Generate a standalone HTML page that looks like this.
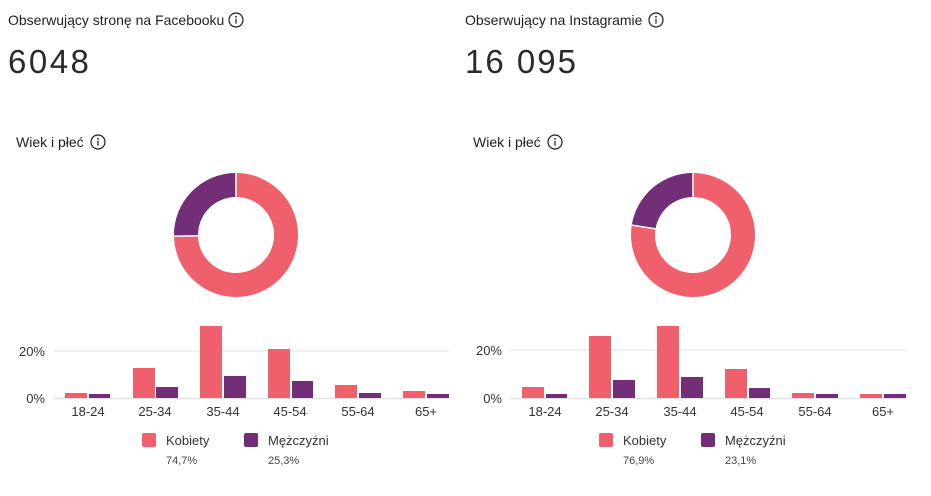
<!DOCTYPE html>
<html><head><meta charset="utf-8"><style>
body{margin:0;background:#fff;width:931px;height:491px;overflow:hidden;font-family:"Liberation Sans",sans-serif}
</style></head><body>
<svg width="931" height="491" xmlns="http://www.w3.org/2000/svg" font-family="Liberation Sans, sans-serif">
<defs>
<g id="info"><circle r="7" fill="none" stroke="#1c1e21" stroke-width="1.2"/><circle cy="-3.2" r="0.9" fill="#1c1e21"/><rect x="-0.6" y="-1.3" width="1.2" height="5" fill="#1c1e21"/></g>
</defs>
<!-- Left -->
<text x="8" y="25" font-size="14" fill="#1c1e21">Obserwujący stronę na Facebooku</text>
<use href="#info" x="236" y="20"/>
<text x="8" y="73" font-size="33" fill="#2a2a2a" letter-spacing="2.5">6048</text>
<text x="16" y="147" font-size="14" fill="#1c1e21">Wiek i płeć</text>
<use href="#info" x="98" y="142"/>
<g transform="translate(236,235)">
<circle r="50" fill="none" stroke="#f0606c" stroke-width="24"/>
<path d="M0,-62 A62,62 0 0 0 -61.99,1.2 L-38,0.7 A38,38 0 0 1 0,-38 Z" fill="#732e78"/>
<line x1="0" y1="-62" x2="0" y2="-38" stroke="#fff" stroke-width="1.5"/>
<line x1="-62" y1="1.2" x2="-38" y2="0.7" stroke="#fff" stroke-width="1.5"/>
</g>
<line x1="53" y1="351" x2="449" y2="351" stroke="#e3e3e3" stroke-width="1"/>
<line x1="53" y1="398.5" x2="449" y2="398.5" stroke="#e3e3e3" stroke-width="1.5"/>
<text x="45" y="356" font-size="13" fill="#333" text-anchor="end">20%</text>
<text x="45" y="403" font-size="13" fill="#333" text-anchor="end">0%</text>
<g fill="#f0606c">
<rect x="65" y="393" width="22" height="5"/><rect x="133" y="368" width="22" height="30"/><rect x="200" y="326" width="22" height="72"/><rect x="268" y="349" width="22" height="49"/><rect x="335" y="385" width="22" height="13"/><rect x="403" y="391" width="22" height="7"/>
</g>
<g fill="#732e78">
<rect x="89" y="394" width="21" height="4"/><rect x="156" y="387" width="22" height="11"/><rect x="224" y="376" width="22" height="22"/><rect x="292" y="381" width="21" height="17"/><rect x="359" y="393" width="22" height="5"/><rect x="427" y="394" width="22" height="4"/>
</g>
<g font-size="13" fill="#333" text-anchor="middle">
<text x="88" y="416">18-24</text><text x="155" y="416">25-34</text><text x="223" y="416">35-44</text><text x="290" y="416">45-54</text><text x="358" y="416">55-64</text><text x="426" y="416">65+</text>
</g>
<rect x="142" y="433" width="14" height="14" rx="2" fill="#f0606c"/>
<text x="166" y="445" font-size="13" fill="#333">Kobiety</text>
<text x="166" y="464" font-size="11" fill="#444">74,7%</text>
<rect x="244" y="433" width="14" height="14" rx="2" fill="#732e78"/>
<text x="268" y="445" font-size="13" fill="#333">Mężczyźni</text>
<text x="268" y="464" font-size="11" fill="#444">25,3%</text>

<!-- Right -->
<text x="465" y="25" font-size="14" fill="#1c1e21">Obserwujący na Instagramie</text>
<use href="#info" x="656" y="20"/>
<text x="465" y="73" font-size="33" fill="#2a2a2a" letter-spacing="2">16 095</text>
<text x="473" y="147" font-size="14" fill="#1c1e21">Wiek i płeć</text>
<use href="#info" x="555" y="142"/>
<g transform="translate(693,235)">
<circle r="50" fill="none" stroke="#f0606c" stroke-width="24"/>
<path d="M0,-62 A62,62 0 0 0 -61.2,-9.9 L-37.5,-6.1 A38,38 0 0 1 0,-38 Z" fill="#732e78"/>
<line x1="0" y1="-62" x2="0" y2="-38" stroke="#fff" stroke-width="1.5"/>
<line x1="-61.2" y1="-9.9" x2="-37.5" y2="-6.1" stroke="#fff" stroke-width="1.5"/>
</g>
<line x1="510" y1="350" x2="906" y2="350" stroke="#e3e3e3" stroke-width="1"/>
<line x1="510" y1="398.5" x2="906" y2="398.5" stroke="#e3e3e3" stroke-width="1.5"/>
<text x="502" y="355" font-size="13" fill="#333" text-anchor="end">20%</text>
<text x="502" y="403" font-size="13" fill="#333" text-anchor="end">0%</text>
<g fill="#f0606c">
<rect x="522" y="387" width="22" height="11"/><rect x="589" y="336" width="22" height="62"/><rect x="657" y="326" width="22" height="72"/><rect x="725" y="369" width="22" height="29"/><rect x="792" y="393" width="22" height="5"/><rect x="860" y="394" width="22" height="4"/>
</g>
<g fill="#732e78">
<rect x="546" y="394" width="21" height="4"/><rect x="613" y="380" width="22" height="18"/><rect x="681" y="377" width="22" height="21"/><rect x="749" y="388" width="21" height="10"/><rect x="816" y="394" width="22" height="4"/><rect x="884" y="394" width="22" height="4"/>
</g>
<g font-size="13" fill="#333" text-anchor="middle">
<text x="545" y="416">18-24</text><text x="612" y="416">25-34</text><text x="680" y="416">35-44</text><text x="747" y="416">45-54</text><text x="815" y="416">55-64</text><text x="883" y="416">65+</text>
</g>
<rect x="599" y="433" width="14" height="14" rx="2" fill="#f0606c"/>
<text x="623" y="445" font-size="13" fill="#333">Kobiety</text>
<text x="623" y="464" font-size="11" fill="#444">76,9%</text>
<rect x="701" y="433" width="14" height="14" rx="2" fill="#732e78"/>
<text x="725" y="445" font-size="13" fill="#333">Mężczyźni</text>
<text x="725" y="464" font-size="11" fill="#444">23,1%</text>
</svg>
</body></html>
